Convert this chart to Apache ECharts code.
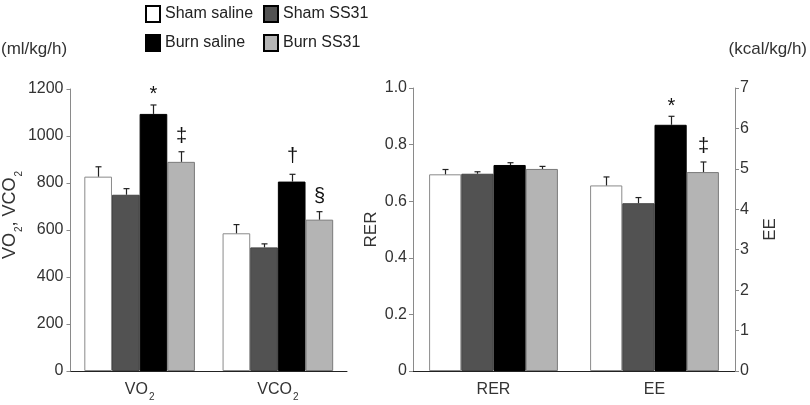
<!DOCTYPE html>
<html>
<head>
<meta charset="utf-8">
<script src="https://cdn.jsdelivr.net/npm/echarts@6/dist/echarts.min.js"></script>
<style>html,body{margin:0;padding:0;background:#fff}#c{width:810px;height:405px}</style>
</head>
<body>
<div id="c"></div>
<script>
// ---- data ----
const groups = ['Sham saline', 'Sham SS31', 'Burn saline', 'Burn SS31'];
const leftCategories = ['VO2', 'VCO2'];
const rightCategories = ['RER', 'EE'];
const vo2Means = [827, 750, 1094, 890];
const vo2Err = [42, 26, 38, 43];
const vco2Means = [586, 526, 806, 644];
const vco2Err = [37, 15, 31, 34];
const rerMeans = [0.695, 0.697, 0.728, 0.714];
const rerErr = [0.017, 0.007, 0.008, 0.009];
const eeMeans = [4.59, 4.15, 6.09, 4.92];
const eeErr = [0.21, 0.14, 0.21, 0.25];
const vo2Marks = ['', '', '*', '‡'];
const vco2Marks = ['', '', '†', '§'];
const rerMarks = ['', '', '', ''];
const eeMarks = ['', '', '*', '‡'];
const leftTicks = [0, 200, 400, 600, 800, 1000, 1200];
const rerTicks = ['0', '0.2', '0.4', '0.6', '0.8', '1.0'];
const eeTicks = [0, 1, 2, 3, 4, 5, 6, 7];

// ---- styles ----
const FONT = 'Liberation Sans, Arial, sans-serif';
const fills = ['#ffffff', '#525252', '#000000', '#b4b4b4'];
const borders = ['#8a8a8a', '#444444', '#000000', '#7a7a7a'];
const markOffset = {'*': 5, '‡': 0, '†': -3, '§': 0};

const subRich = {
  a: {fontSize: 16, fontFamily: FONT, color: '#333', lineHeight: 24},
  s: {fontSize: 10, fontFamily: FONT, color: '#333', verticalAlign: 'bottom', lineHeight: 10, padding: [0, 0, 0, 1]}
};
const nameRich = {
  a: {fontSize: 18, fontFamily: FONT, color: '#333', lineHeight: 28},
  s: {fontSize: 10, fontFamily: FONT, color: '#333', verticalAlign: 'bottom', lineHeight: 10, padding: [0, 0, 0, 1]}
};
function subLabel(v) {
  const m = v.match(/^(.*?)(\d)$/);
  return m ? '{a|' + m[1] + '}{s|' + m[2] + '}' : '{a|' + v + '}';
}

function errSeries(xi, yi, catValues) {
  const data = [], markList = [];
  catValues.forEach((cv, c) => {
    cv[0].forEach((m, k) => {
      data.push([c, m, cv[1][k], k]);
      markList.push(cv[2][k]);
    });
  });
  return {
    type: 'custom', xAxisIndex: xi, yAxisIndex: yi, z: 5, silent: true,
    data: data,
    renderItem: function (params, api) {
      const c = api.value(0), v = api.value(1), e = api.value(2), k = api.value(3);
      const base = api.coord([c, v]);
      const top = api.coord([c, v + e]);
      const band = api.size([1, 0])[0];
      const gw = band * 0.8, bw = gw / 4;
      const x = Math.round(base[0] - gw / 2 + bw * (k + 0.5)) + 0.5;
      const children = [
        {type: 'line', shape: {x1: x, y1: base[1], x2: x, y2: top[1]}, style: {stroke: '#222', lineWidth: 1.2}},
        {type: 'line', shape: {x1: x - 3, y1: top[1], x2: x + 3, y2: top[1]}, style: {stroke: '#222', lineWidth: 1.2}}
      ];
      const mk = markList[params.dataIndex];
      if (mk) {
        children.push({type: 'text', x: x, y: top[1] - 15 + (markOffset[mk] || 0),
          style: {text: mk, fontSize: 20, fontFamily: FONT, fill: '#111', align: 'center', verticalAlign: 'middle'}});
      }
      return {type: 'group', children: children};
    }
  };
}

const series = [];
groups.forEach((g, k) => {
  const itemStyle = {color: fills[k], borderColor: borders[k], borderWidth: 1};
  series.push({name: g, type: 'bar', xAxisIndex: 0, yAxisIndex: 0, barGap: '0%', barCategoryGap: '20%',
    data: [vo2Means[k], vco2Means[k]], itemStyle: itemStyle});
  series.push({name: g, type: 'bar', xAxisIndex: 1, yAxisIndex: 1, barGap: '0%', barCategoryGap: '20%',
    data: [rerMeans[k], '-'], itemStyle: itemStyle});
  series.push({name: g, type: 'bar', xAxisIndex: 2, yAxisIndex: 2, barGap: '0%', barCategoryGap: '20%',
    data: ['-', eeMeans[k]], itemStyle: itemStyle});
});
series.push(errSeries(0, 0, [[vo2Means, vo2Err, vo2Marks], [vco2Means, vco2Err, vco2Marks]]));
series.push(errSeries(1, 1, [[rerMeans, rerErr, rerMarks]]));
series.push(errSeries(2, 2, [[[], [], []], [eeMeans, eeErr, eeMarks]]));

const legendPos = [[145, 5], [263, 5], [145, 34], [263, 34]];
const legends = groups.map((g, k) => ({
  data: [g], left: legendPos[k][0], top: legendPos[k][1], padding: 0,
  icon: 'rect', itemWidth: 14, itemHeight: 16, selectedMode: false,
  itemStyle: {borderColor: '#000', borderWidth: 2},
  textStyle: {fontSize: 16, fontFamily: FONT, color: '#222'}
}));

const yGrey = '#8a8a8a';
const axisLabelStyle = {fontSize: 16, fontFamily: FONT, color: '#333'};

const option = {
  animation: false,
  backgroundColor: '#fff',
  legend: legends,
  grid: [
    {left: 70, top: 89, width: 277, height: 282},
    {left: 413, top: 88, width: 322, height: 283}
  ],
  xAxis: [
    {type: 'category', gridIndex: 0, data: leftCategories,
      axisLine: {lineStyle: {color: '#222'}}, axisTick: {show: false},
      axisLabel: {margin: 7, formatter: subLabel, rich: subRich}},
    {type: 'category', gridIndex: 1, data: rightCategories,
      axisLine: {lineStyle: {color: '#222'}}, axisTick: {show: false},
      axisLabel: Object.assign({margin: 11}, axisLabelStyle)},
    {type: 'category', gridIndex: 1, data: rightCategories, show: false}
  ],
  yAxis: [
    {type: 'value', gridIndex: 0, min: 0, max: 1200, interval: 200,
      splitLine: {show: false},
      axisLine: {show: true, lineStyle: {color: yGrey}},
      axisTick: {show: true, length: 4, lineStyle: {color: yGrey}},
      axisLabel: Object.assign({margin: 7, formatter: v => String(leftTicks[leftTicks.indexOf(v)])}, axisLabelStyle),
      name: '{a|VO}{s|2}{a|, VCO}{s|2}', nameLocation: 'middle', nameRotate: 90, nameGap: 41,
      nameTextStyle: {rich: nameRich, padding: [0, 0, 0, 30]}},
    {type: 'value', gridIndex: 1, min: 0, max: 1, interval: 0.2,
      splitLine: {show: false},
      axisLine: {show: true, lineStyle: {color: yGrey}},
      axisTick: {show: true, length: 4, lineStyle: {color: yGrey}},
      axisLabel: Object.assign({margin: 6, formatter: v => rerTicks[Math.round(v * 5)]}, axisLabelStyle),
      name: 'RER', nameLocation: 'middle', nameRotate: 90, nameGap: 33,
      nameTextStyle: {fontSize: 17, fontFamily: FONT, color: '#333'}},
    {type: 'value', gridIndex: 1, position: 'right', min: 0, max: 7, interval: 1,
      splitLine: {show: false},
      axisLine: {show: true, lineStyle: {color: yGrey}},
      axisTick: {show: true, length: 4, lineStyle: {color: yGrey}},
      axisLabel: Object.assign({margin: 5, formatter: v => String(eeTicks[v])}, axisLabelStyle),
      name: 'EE', nameLocation: 'middle', nameRotate: 90, nameGap: 27,
      nameTextStyle: {fontSize: 17, fontFamily: FONT, color: '#333'}}
  ],
  graphic: [
    {type: 'text', left: 1, top: 41, style: {text: '(ml/kg/h)', fontSize: 17, fontFamily: FONT, fill: '#333'}},
    {type: 'text', right: 3, top: 41, style: {text: '(kcal/kg/h)', fontSize: 17, fontFamily: FONT, fill: '#333'}}
  ],
  series: series
};
const chart = echarts.init(document.getElementById('c'), null, {renderer: 'canvas'});
chart.setOption(option);
</script>
</body>
</html>
